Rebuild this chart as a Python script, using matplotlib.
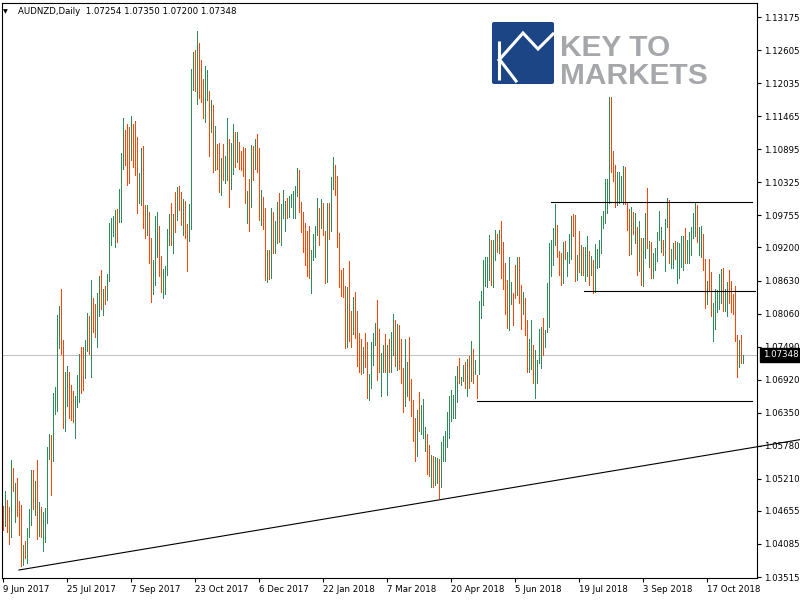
import numpy as np
import matplotlib
matplotlib.use("Agg")
import matplotlib.pyplot as plt
from matplotlib import transforms
from matplotlib.patches import FancyBboxPatch

# ---------------- data (AUDNZD daily bars) ----------------
highs_a = [1.0474,1.0500,1.0484,1.0473,1.0553,1.0540,1.0513,1.0522,1.0483,1.0476,
           1.0407,1.0414,1.0436,1.0469,1.0536,1.0536,1.0517,1.0553,1.0481,1.0473,
           1.0464,1.0471,1.0576,1.0598,1.0596,1.0669,1.0680,1.0803,1.0819,1.0848,
           1.0760,1.0706,1.0715,1.0705,1.0683,1.0673,1.0664,1.0700,1.0736,1.0749,
           1.0749,1.0760,1.0807,1.0801,1.0864,1.0833,1.0822,1.0842,1.0871,1.0881,
           1.0849,1.0853,1.0875,1.0963,1.0970,1.0974,1.0985,1.0986,1.1020,1.1083,
           1.1143,1.1123,1.1133,1.1128,1.1147,1.1133,1.1138,1.1111,1.1049,1.1092,
           1.1095,1.0993,1.0993,1.0982,1.0936,1.0898,1.0974,1.0981,1.0957,1.0906,
           1.0883,1.0888,1.0952,1.0977,1.0997,1.0977,1.1016,1.1024,1.1026,1.1016,
           1.1003,1.1001,1.0960,1.0995]
lows_a = [1.0433,1.0439,1.0429,1.0408,1.0421,1.0500,1.0447,1.0456,1.0424,1.0370,
          1.0372,1.0384,1.0375,1.0421,1.0441,1.0468,1.0458,1.0417,1.0422,1.0421,
          1.0396,1.0412,1.0445,1.0555,1.0493,1.0552,1.0632,1.0638,1.0746,1.0737,
          1.0609,1.0604,1.0646,1.0625,1.0622,1.0619,1.0592,1.0645,1.0654,1.0669,
          1.0674,1.0694,1.0741,1.0736,1.0697,1.0774,1.0766,1.0749,1.0801,1.0814,
          1.0803,1.0822,1.0829,1.0863,1.0924,1.0940,1.0921,1.0930,1.0964,1.0964,
          1.1055,1.1062,1.1028,1.1031,1.1071,1.1059,1.1045,1.0980,1.0996,1.0993,
          1.0954,1.0937,1.0941,1.0893,1.0826,1.0840,1.0855,1.0904,1.0870,1.0843,
          1.0832,1.0840,1.0873,1.0924,1.0924,1.0911,1.0947,1.0967,1.0985,1.0959,
          1.0942,1.0937,1.0880,1.0932]
dirs_a = ("d u d d u d u d d d  u d u u u d u d u d  u u u u d u u u u d  "
          "d u u d d d u u u d  d u u d u d d u u d  u d u u u u u d u u  "
          "u d d d u d d d u u  d d u d d u u u d d  u u u u d u d u d d  "
          "u d d u").split()

highs_b = [1.1228,1.1257,1.1261,1.1293,1.1273,1.1243,1.1211,1.1233,1.1226,1.1190,
           1.1174,1.1166,1.1130,1.1098,1.1100,1.1074,1.1098,1.1078,1.1143,1.1107,
           1.1100,1.1133,1.1119,1.1119,1.1102,1.1086,1.1093,1.1092,1.1017,1.1038,
           1.1097,1.1095,1.1107,1.1116,1.1092,1.1019,1.1007,1.0988,1.0916,1.0916,
           1.0988,1.0981,1.0966,1.0998,1.1014,1.0995,1.1019,1.1000,1.1005,1.1009,
           1.1012,1.1017,1.1026,1.1057,1.1054,1.0998,1.0981,1.0962,1.0948,1.0957,
           1.0916,1.0943,1.0957,1.1005,1.0988,1.1004,1.0997,1.0948,1.0997,1.0997,
           1.1042,1.1076,1.1062,1.1043,1.0945,1.0881,1.0885,1.0854,1.0852,1.0897,
           1.0810,1.0835,1.0843,1.0810,1.0772,1.0762,1.0748,1.0772,1.0757,1.0702,
           1.0757,1.0772]
lows_b = [1.0951,1.1192,1.1190,1.1168,1.1178,1.1171,1.1144,1.1137,1.1174,1.1078,
          1.1120,1.1051,1.1054,1.1055,1.1015,1.1011,1.1037,1.1032,1.1037,1.0990,
          1.1021,1.1046,1.1059,1.1067,1.1055,1.1054,1.1044,1.0997,1.0963,1.0949,
          1.0989,1.1037,1.1056,1.1051,1.0968,1.0959,1.0952,1.0864,1.0861,1.0866,
          1.0868,1.0911,1.0911,1.0928,1.0930,1.0925,1.0971,1.0949,1.0970,1.0972,
          1.0989,1.0970,1.0971,1.1008,1.0982,1.0947,1.0913,1.0890,1.0871,1.0868,
          1.0842,1.0899,1.0904,1.0942,1.0925,1.0954,1.0942,1.0858,1.0861,1.0935,
          1.0949,1.1020,1.1011,1.0921,1.0851,1.0837,1.0835,1.0747,1.0749,1.0759,
          1.0749,1.0770,1.0763,1.0716,1.0706,1.0701,1.0704,1.0713,1.0661,1.0656,
          1.0678,1.0718]
dirs_b = ("u u d u d d d u u d  u d u d d u d u u d  u u d u d d d d u d  "
          "u d u d d u d d u d  u d u u d u u u d u  u u u u d d d d d d  "
          "u u u u d u d d u d  u u d d d d d d u d  d u d d d d u d d u  "
          "u u").split()

highs_c = [1.0789,1.0830,1.0779,1.0738,1.0751,1.0770,1.0751,1.0762,1.0775,1.0805,
           1.0795,1.0788,1.0786,1.0762,1.0712,1.0762,1.0723,1.0766,1.0693,1.0657,
           1.0625,1.0640,1.0671,1.0649,1.0659,1.0611,1.0598,1.0579,1.0562,1.0561,
           1.0559,1.0556,1.0555,1.0584,1.0594,1.0603,1.0637,1.0664,1.0674,1.0666,
           1.0699,1.0716,1.0730,1.0697,1.0718,1.0723,1.0728,1.0732,1.0759,1.0744,
           1.0726,1.0700,1.0828,1.0845,1.0898,1.0904,1.0904,1.0942,1.0933,1.0933,
           1.0950,1.0944,1.0950,1.0966,1.0930,1.0893,1.0864,1.0904,1.0861,1.0841,
           1.0890,1.0904,1.0904,1.0856,1.0844,1.0833,1.0795,1.0762,1.0795,1.0751,
           1.0743,1.0726,1.0779,1.0783,1.0798,1.0778,1.0858,1.0927,1.0933,1.0953]
lows_c = [1.0752,1.0691,1.0706,1.0663,1.0705,1.0705,1.0666,1.0706,1.0706,1.0735,
          1.0716,1.0708,1.0710,1.0686,1.0637,1.0647,1.0663,1.0657,1.0630,1.0586,
          1.0552,1.0561,1.0603,1.0599,1.0592,1.0569,1.0529,1.0525,1.0507,1.0506,
          1.0511,1.0513,1.0487,1.0507,1.0552,1.0552,1.0575,1.0591,1.0620,1.0626,
          1.0626,1.0654,1.0686,1.0682,1.0690,1.0678,1.0664,1.0677,1.0690,1.0686,
          1.0701,1.0660,1.0701,1.0798,1.0820,1.0854,1.0852,1.0864,1.0855,1.0852,
          1.0898,1.0913,1.0910,1.0867,1.0848,1.0805,1.0781,1.0778,1.0822,1.0787,
          1.0832,1.0838,1.0825,1.0779,1.0806,1.0769,1.0706,1.0705,1.0710,1.0687,
          1.0660,1.0687,1.0720,1.0712,1.0735,1.0749,1.0774,1.0783,1.0871,1.0890]
dirs_c = ("u d d u u d u d u u  d u d d d u u d d d  d u d u u u d d u d  "
          "u u d u u u u u u u  u u d u u d u d u d  u d u u u u u u d u  "
          "u d u d d d d u u d  d u d d u d d u u d  u u u u d u u u u u").split()

highs_d = [1.0995,1.0959,1.0914,1.0910,1.0930,1.0932,1.0912,1.0943,1.0974,1.0978,
           1.0976,1.0907,1.0948,1.0924,1.0921,1.0921,1.0940,1.0914,1.0906,1.0898,
           1.0926,1.0917,1.0933,1.0974,1.0983,1.1038,1.1038,1.1179,1.1180,1.1086,
           1.1062,1.1051,1.1051,1.1043,1.1061,1.1058,1.0996,1.0986,1.0990,1.0982,
           1.0980,1.0955,1.0965,1.0936,1.0936,1.0979,1.1023,1.0932,1.0930,1.0910,
           1.0919,1.0947,1.0983,1.0956,1.0933,1.0969,1.1005,1.1002,1.0917,1.0928,
           1.0932,1.0930,1.0928,1.0939,1.0939,1.0954,1.0933,1.0947,1.0956,1.0979,
           1.0998,1.0993,1.0956,1.0957,1.0943,1.0900,1.0863,1.0900,1.0877,1.0825,
           1.0848,1.0847,1.0874,1.0882,1.0884,1.0848,1.0861,1.0881,1.0863,1.0840,
           1.0854,1.0769,1.0760,1.0769,1.07350]
lows_d = [1.0924,1.0904,1.0873,1.0856,1.0859,1.0900,1.0870,1.0893,1.0900,1.0940,
          1.0863,1.0864,1.0878,1.0873,1.0872,1.0863,1.0870,1.0855,1.0873,1.0842,
          1.0844,1.0884,1.0887,1.0911,1.0953,1.0962,1.0980,1.0996,1.1051,1.1035,
          1.0989,1.0993,1.0996,1.1001,1.0995,1.0995,1.0950,1.0907,1.0909,1.0944,
          1.0928,1.0873,1.0880,1.0855,1.0854,1.0901,1.0919,1.0886,1.0867,1.0867,
          1.0881,1.0896,1.0933,1.0913,1.0907,1.0880,1.0956,1.0893,1.0884,1.0884,
          1.0900,1.0859,1.0867,1.0887,1.0881,1.0893,1.0893,1.0893,1.0907,1.0936,
          1.0940,1.0930,1.0907,1.0904,1.0881,1.0815,1.0822,1.0847,1.0801,1.0759,
          1.0779,1.0809,1.0813,1.0824,1.0811,1.0811,1.0801,1.0824,1.0809,1.0805,
          1.0759,1.0697,1.0713,1.0720,1.07200]
dirs_d = ("u d d d u d u u u d  d u d u d u u d u d  u u u u u u u u d d  "
          "d u u u u d d d u d  u d u d u u d u d u  u u u u d u u d u u  "
          "d u u u u d u u u u  u d u u d d u d d u  u u u u d u u d d d  "
          "d d u d u").split()

highs = highs_a + highs_b + highs_c + highs_d
lows = lows_a + lows_b + lows_c + lows_d
dirs = dirs_a + dirs_b + dirs_c + dirs_d

date_labels = ["9 Jun 2017", "25 Jul 2017", "7 Sep 2017", "23 Oct 2017", "6 Dec 2017",
               "22 Jan 2018", "7 Mar 2018", "20 Apr 2018", "5 Jun 2018", "19 Jul 2018",
               "3 Sep 2018", "17 Oct 2018"]
date_label_bars = [0, 32, 64, 96, 128, 160, 192, 224, 256, 288, 320, 352]

price_ticks = [1.13175, 1.12605, 1.12035, 1.11465, 1.10895, 1.10325, 1.09755, 1.09200,
               1.08630, 1.08060, 1.07490, 1.06920, 1.06350, 1.05780, 1.05210, 1.04655,
               1.04085, 1.03515]

last_open, last_high, last_low, last_close = 1.07254, 1.07350, 1.07200, 1.07348

# horizontal support/resistance lines: level, start bar, end bar
hline_levels = [1.09984, 1.08449, 1.06551]
hline_start = [274, 290.5, 237]
hline_end = [374.5, 376, 374.5]

# trend line (bar index, price)
trend_x = [8, 398.5]
trend_y = [1.03636, 1.05885]

# ---------------- figure ----------------
fig = plt.figure(figsize=(8, 6), dpi=100)
fig.patch.set_facecolor("white")
ax = fig.add_axes([2 / 800, 22 / 600, 755 / 800, 575 / 600])
ax.set_facecolor("white")

n = len(highs)
xs = np.arange(n)
up_color = "#2e8b57"
down_color = "#ff4500"
colors = [up_color if d == "u" else down_color for d in dirs]

ax.axhline(last_close, color="#c0c0c0", lw=0.7, zorder=0.5)
ax.vlines(xs, lows, highs, colors=colors, linewidth=0.55, antialiased=False, zorder=2)

for lvl, s, e in zip(hline_levels, hline_start, hline_end):
    ax.plot([s, e], [lvl, lvl], color="black", lw=0.8, zorder=3)

ax.plot(trend_x, trend_y, color="black", lw=0.8, zorder=5, clip_on=False)

ax.set_xlim(-0.5, 377)
ax.set_ylim(1.03498, 1.13417)

# axes styling
for sp in ax.spines.values():
    sp.set_color("black")
    sp.set_linewidth(0.8)

fs = 6.2
ax.yaxis.tick_right()
ax.set_yticks(price_ticks)
ax.set_yticklabels([f"{p:.5f}" for p in price_ticks])
ax.set_xticks(date_label_bars)
ax.set_xticklabels(date_labels)
ax.tick_params(axis="y", direction="out", length=3, width=0.8, pad=2,
               labelsize=fs, colors="black")
ax.tick_params(axis="x", direction="out", length=3, width=0.8, pad=2,
               labelsize=fs, colors="black")
for lbl in ax.get_xticklabels():
    lbl.set_horizontalalignment("left")
    lbl.set_fontfamily("DejaVu Sans")
for lbl in ax.get_yticklabels():
    lbl.set_fontfamily("DejaVu Sans")

# current price box on the price scale
trans = transforms.blended_transform_factory(ax.transAxes, ax.transData)
ax.text(1.0 + 6 / 755, last_close, f"{last_close:.5f}", transform=trans,
        ha="left", va="center", fontsize=fs, color="white", fontfamily="DejaVu Sans",
        bbox=dict(boxstyle="square,pad=0.3", facecolor="black", edgecolor="black"),
        clip_on=False, zorder=6)

# ---------------- overlay for title and logo (pixel coords) ----------------
ov = fig.add_axes([0, 0, 1, 1], zorder=10)
ov.set_xlim(0, 800)
ov.set_ylim(600, 0)
ov.axis("off")
ov.patch.set_alpha(0)

ov.text(3, 12, "\u25BC", fontsize=4.5, ha="left", va="center", color="black",
        fontfamily="DejaVu Sans")
ov.text(18, 12, f"AUDNZD,Daily  {last_open:.5f} {last_high:.5f} {last_low:.5f} {last_close:.5f}",
        fontsize=6.2, ha="left", va="center", color="black", fontfamily="DejaVu Sans")

# logo
logo_blue = "#1b4585"
ov.add_patch(FancyBboxPatch((492, 22), 62, 62, boxstyle="round,pad=0,rounding_size=2",
                            facecolor=logo_blue, edgecolor="none"))
ov.plot([498.5, 498.5], [41, 80], color="white", lw=2.2, solid_capstyle="butt")
ov.plot([499, 523, 538, 553], [60, 33, 49, 34], color="white", lw=2.2,
        solid_joinstyle="miter")
ov.plot([500, 516], [60, 81], color="white", lw=2.2)
logo_grey = "#a5a7aa"
ov.text(560, 56, "KEY TO", fontsize=21.5, color=logo_grey, ha="left", va="baseline",
        fontfamily="Liberation Sans", fontweight="bold")
ov.text(560, 84, "MARKETS", fontsize=21.5, color=logo_grey, ha="left", va="baseline",
        fontfamily="Liberation Sans", fontweight="bold")

fig.savefig("out.png", dpi=100, facecolor="white")
